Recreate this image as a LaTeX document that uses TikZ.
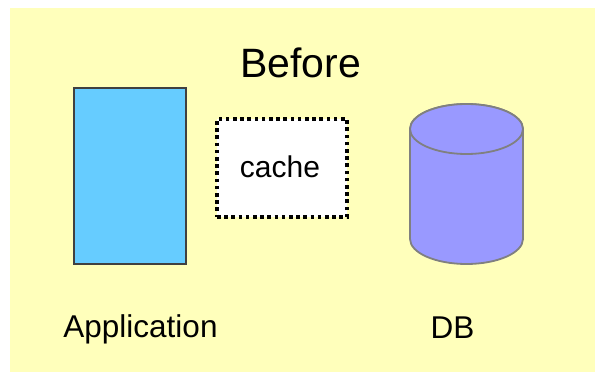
\documentclass[tikz,border=0pt]{standalone}
\usepackage{fontspec}
\setmainfont{Liberation Sans}
\definecolor{bgyellow}{HTML}{FFFFBB}
\definecolor{appblue}{HTML}{66CCFF}
\definecolor{dbblue}{HTML}{9999FF}
\definecolor{dbedge}{HTML}{808080}
\definecolor{appedge}{HTML}{404040}
\tikzset{
  lbl/.style={anchor=base, inner sep=0pt, font=\fontsize{31.5}{31.5}\selectfont},
  cachelbl/.style={anchor=base, inner sep=0pt, font=\fontsize{30}{30}\selectfont},
  title/.style={anchor=base, inner sep=0pt, font=\fontsize{41}{41}\selectfont},
  appbox/.style={draw=appedge, fill=appblue, line width=1.8pt, minimum width=112pt, minimum height=176pt, inner sep=0pt},
  cachebox/.style={draw=black, fill=white, line width=3.5pt, dash pattern=on 3.6pt off 3.6pt, minimum width=130pt, minimum height=98pt, inner sep=0pt},
  dbshape/.style={draw=dbedge, fill=dbblue, line width=1.8pt}
}
\begin{document}
\begin{tikzpicture}[x=1pt,y=-1pt]
\useasboundingbox (0,0) rectangle (595,372);
\fill[bgyellow] (10,8) rectangle (595,372);
\node[title] (before) at (300.5,77) {Before};
\node[appbox] (app) at (130,176) {};
\node[cachebox] (cache) at (282,168) {};
\node[cachelbl] (cachetext) at (280,177) {cache};
% database cylinder
\coordinate (dbtop) at (466.5,129);
\coordinate (dbbot) at (466.5,239);
\path[dbshape] (410,129) -- (410,239) arc[start angle=180, end angle=0, x radius=56.5, y radius=25] -- (523,129) arc[start angle=0, end angle=-180, x radius=56.5, y radius=25] -- cycle;
\draw[dbshape] (dbtop) ellipse[x radius=56.5, y radius=25];
\node[lbl] (applabel) at (140.5,337) {Application};
\node[lbl] (dblabel) at (452.5,338) {DB};
\end{tikzpicture}
\end{document}
